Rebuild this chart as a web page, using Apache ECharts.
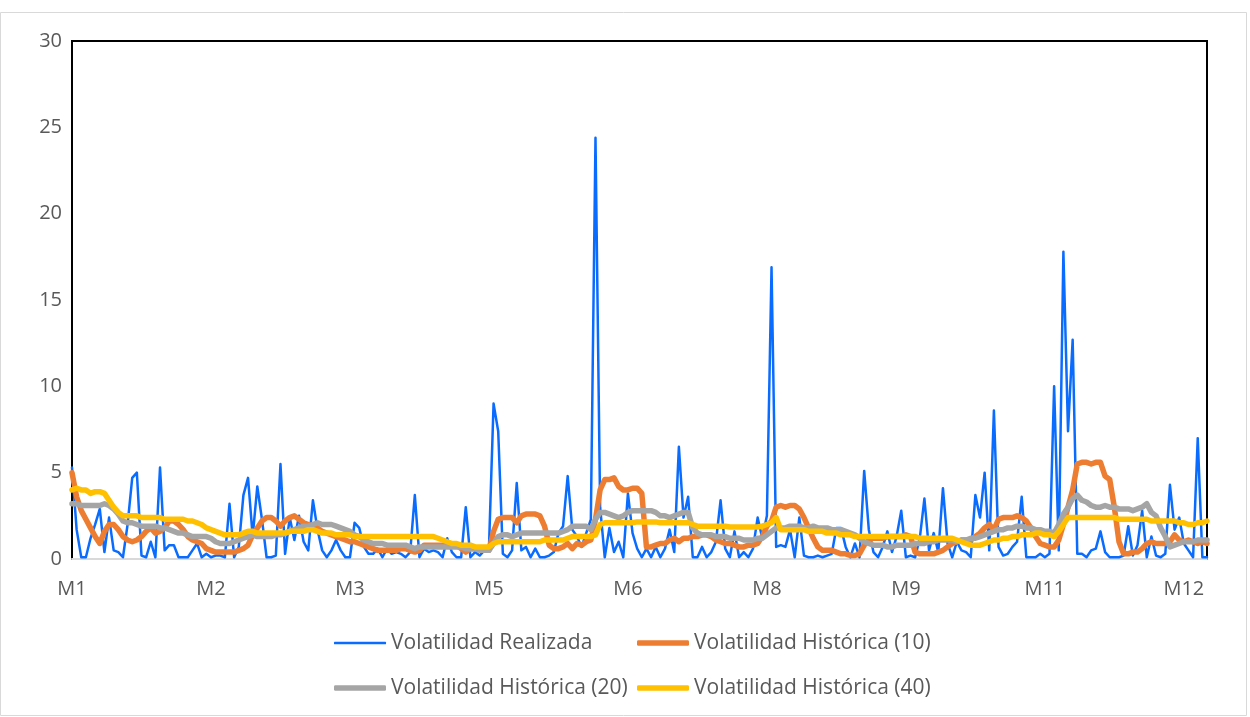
<!DOCTYPE html>
<html>
<head>
<meta charset="utf-8">
<script src="https://cdn.jsdelivr.net/npm/echarts@6/dist/echarts.min.js"></script>
<style>
  html, body { margin: 0; padding: 0; background: #ffffff; }
  #chart { width: 1250px; height: 717px; }
</style>
</head>
<body>
<div id="chart"></div>
<script>
// Month names and the trading-day index where each month begins
const monthNames = ['M1', 'M2', 'M3', 'M4', 'M5', 'M6', 'M7', 'M8', 'M9', 'M10', 'M11', 'M12'];
const monthStarts = [0, 20, 41, 61, 82, 102, 123, 143, 164, 184, 205, 225];
const dayCount = 246;

// Daily realized volatility
const realizada = [
  5.3,1.7,0.1,0.1,1.2,2.0,2.9,0.4,2.4,0.5,0.4,0.1,2.0,4.7,5.0,0.2,0.1,1.0,0.1,5.3,0.5,0.8,0.8,0.1,0.1,0.1,0.5,0.9,0.1,0.3,
  0.1,0.2,0.2,0.1,3.2,0.1,0.7,3.7,4.7,1.3,4.2,2.3,0.1,0.1,0.2,5.5,0.3,2.4,1.1,2.5,1.0,0.5,3.4,1.7,0.5,0.1,0.5,1.1,0.5,0.1,
  0.1,2.1,1.8,0.7,0.3,0.3,0.6,0.1,0.6,0.3,0.4,0.3,0.1,0.4,3.7,0.1,0.6,0.4,0.5,0.4,0.1,1.2,0.4,0.1,0.1,3.0,0.1,0.4,0.2,0.5,
  0.6,9.0,7.4,0.3,0.1,0.5,4.4,0.5,0.7,0.1,0.6,0.1,0.1,0.2,0.4,1.5,1.9,4.8,1.7,1.3,0.7,1.5,2.3,24.4,3.0,0.1,1.8,0.4,1.0,0.1,
  3.8,1.5,0.6,0.1,0.6,0.1,0.7,0.1,0.6,1.7,0.4,6.5,2.4,3.6,0.1,0.1,0.7,0.1,0.4,1.0,3.4,0.6,0.1,1.6,0.1,0.4,0.1,0.6,2.4,1.2,
  2.5,16.9,0.7,0.8,0.7,1.7,0.1,2.4,0.2,0.1,0.1,0.2,0.1,0.2,0.3,1.8,1.8,0.7,0.1,0.9,0.1,5.1,1.7,0.4,0.1,0.7,1.6,0.4,1.3,2.8,
  0.1,0.2,0.1,1.2,3.5,0.5,1.5,0.4,4.1,0.9,0.1,1.0,0.5,0.4,0.1,3.7,2.4,5.0,0.5,8.6,0.7,0.2,0.3,0.7,1.0,3.6,0.1,0.1,0.1,0.3,
  0.1,0.3,10.0,0.5,17.8,7.4,12.7,0.3,0.3,0.1,0.5,0.6,1.6,0.4,0.1,0.1,0.1,0.2,1.9,0.2,0.8,2.8,0.1,1.3,0.2,0.1,0.3,4.3,1.7,2.4,
  0.9,0.5,0.1,7.0,0.1,0.1
];

// Historical volatility, 10-day window
const historica10 = [
  5.0,3.6,2.8,2.3,1.8,1.3,0.9,1.6,2.0,2.0,1.7,1.3,1.1,1.0,1.1,1.3,1.6,1.8,1.5,1.6,1.8,2.2,2.2,2.0,1.7,1.3,1.1,1.0,0.9,0.6,
  0.5,0.4,0.4,0.4,0.4,0.4,0.5,0.6,0.8,1.4,1.8,2.2,2.4,2.4,2.2,1.9,2.2,2.4,2.5,2.3,2.1,2.0,1.9,1.8,1.6,1.5,1.4,1.3,1.2,1.1,
  1.0,1.0,0.9,0.8,0.7,0.6,0.5,0.5,0.5,0.5,0.5,0.6,0.6,0.5,0.4,0.5,0.8,0.8,0.8,0.8,0.8,0.8,0.8,0.8,0.6,0.4,0.6,0.6,0.6,0.5,
  0.5,1.6,2.3,2.4,2.4,2.4,2.1,2.5,2.6,2.6,2.6,2.5,1.9,0.8,0.6,0.6,0.7,0.9,0.6,0.9,0.8,1.0,1.1,2.3,4.0,4.6,4.6,4.7,4.2,4.0,
  4.0,4.1,4.1,3.8,0.7,0.7,0.8,0.9,0.9,1.1,1.2,1.0,1.2,1.2,1.3,1.3,1.4,1.4,1.3,1.1,1.0,0.9,0.9,0.8,0.7,0.7,0.8,0.8,0.9,1.3,
  1.9,2.2,3.0,3.1,3.0,3.1,3.1,2.9,2.4,1.8,1.2,0.7,0.5,0.5,0.5,0.4,0.3,0.3,0.2,0.2,0.3,0.8,1.1,1.2,1.2,1.2,1.3,1.3,1.3,1.3,
  1.4,1.3,0.4,0.3,0.3,0.3,0.3,0.4,0.5,0.7,0.9,1.0,1.1,1.1,1.1,1.3,1.5,1.8,2.0,1.7,2.3,2.4,2.4,2.4,2.5,2.4,2.2,1.8,1.3,0.9,
  0.8,0.7,0.7,1.1,2.0,3.0,4.0,5.5,5.6,5.6,5.5,5.6,5.6,4.8,4.6,3.0,1.0,0.3,0.3,0.4,0.4,0.6,0.9,1.0,0.9,0.9,0.9,1.0,1.4,1.1,
  1.0,1.1,1.0,0.9,1.0,0.9
];

// Historical volatility, 20-day window
const historica20 = [
  3.2,3.2,3.1,3.1,3.1,3.1,3.1,3.2,3.1,2.9,2.6,2.2,2.1,2.1,2.0,1.9,1.9,1.9,1.9,1.8,1.8,1.7,1.6,1.5,1.5,1.4,1.3,1.3,1.3,1.3,
  1.2,1.0,0.9,0.9,0.9,1.0,1.1,1.2,1.3,1.4,1.3,1.3,1.3,1.3,1.4,1.4,1.5,1.6,1.7,1.8,1.9,1.9,2.0,2.1,2.0,2.0,2.0,1.9,1.8,1.7,
  1.6,1.4,1.3,1.1,1.0,0.9,0.9,0.9,0.8,0.8,0.8,0.8,0.8,0.7,0.6,0.7,0.7,0.7,0.7,0.7,0.7,0.7,0.7,0.7,0.7,0.6,0.6,0.6,0.5,0.5,
  0.5,0.9,1.3,1.4,1.4,1.3,1.4,1.5,1.5,1.5,1.5,1.5,1.5,1.5,1.5,1.5,1.6,1.7,1.9,1.9,1.9,1.9,1.7,2.3,2.7,2.7,2.6,2.5,2.4,2.5,
  2.7,2.8,2.8,2.8,2.8,2.8,2.7,2.5,2.5,2.4,2.5,2.6,2.7,2.7,1.8,1.5,1.4,1.4,1.4,1.3,1.3,1.3,1.2,1.2,1.2,1.1,1.1,1.1,1.2,1.2,
  1.4,1.6,1.8,1.8,1.8,1.9,1.9,1.9,1.8,1.8,1.9,1.8,1.8,1.8,1.7,1.7,1.7,1.6,1.5,1.4,1.2,1.0,0.9,0.8,0.8,0.8,0.7,0.7,0.8,0.8,
  0.8,0.8,0.9,0.9,0.9,1.0,1.0,1.1,1.1,1.1,1.1,1.0,1.1,1.1,1.2,1.2,1.3,1.4,1.5,1.6,1.7,1.7,1.8,1.8,1.9,1.9,1.8,1.8,1.7,1.7,
  1.6,1.6,1.5,2.0,2.6,3.0,3.5,3.7,3.4,3.3,3.1,3.0,3.0,3.1,3.0,3.0,2.9,2.9,2.9,2.8,2.9,3.0,3.2,2.7,2.5,1.8,1.3,0.7,0.8,0.9,
  1.0,1.0,1.0,1.1,1.1,1.1
];

// Historical volatility, 40-day window
const historica40 = [
  4.0,4.1,4.0,4.0,3.8,3.9,3.9,3.8,3.4,3.0,2.7,2.5,2.5,2.5,2.5,2.4,2.4,2.4,2.4,2.4,2.3,2.3,2.3,2.3,2.3,2.2,2.2,2.1,2.0,1.8,
  1.7,1.6,1.5,1.4,1.4,1.4,1.4,1.5,1.6,1.6,1.5,1.5,1.5,1.5,1.5,1.5,1.5,1.6,1.6,1.6,1.6,1.7,1.7,1.6,1.5,1.5,1.5,1.4,1.4,1.4,
  1.4,1.3,1.3,1.3,1.3,1.3,1.3,1.3,1.3,1.3,1.3,1.3,1.3,1.3,1.3,1.3,1.3,1.3,1.3,1.2,1.1,1.0,0.9,0.9,0.8,0.8,0.8,0.7,0.7,0.7,
  0.7,0.9,1.0,1.0,1.0,1.0,1.0,1.0,1.0,1.0,1.0,1.0,1.1,1.1,1.1,1.1,1.1,1.2,1.3,1.3,1.3,1.3,1.3,1.4,2.0,2.1,2.1,2.1,2.1,2.1,
  2.1,2.1,2.15,2.15,2.15,2.15,2.15,2.1,2.1,2.1,2.1,2.1,2.1,2.1,2.0,1.9,1.9,1.9,1.9,1.9,1.9,1.9,1.85,1.85,1.85,1.85,1.85,1.85,1.85,1.9,
  2.0,2.1,2.4,1.7,1.7,1.7,1.7,1.7,1.7,1.6,1.6,1.6,1.6,1.5,1.5,1.5,1.4,1.4,1.4,1.3,1.3,1.3,1.3,1.3,1.3,1.3,1.3,1.3,1.3,1.3,
  1.3,1.3,1.3,1.2,1.2,1.2,1.2,1.2,1.2,1.2,1.2,1.1,1.0,0.9,0.8,0.8,0.8,0.9,1.0,1.1,1.1,1.2,1.2,1.3,1.3,1.4,1.4,1.4,1.5,1.5,
  1.4,1.4,1.3,1.6,2.0,2.4,2.4,2.4,2.4,2.4,2.4,2.4,2.4,2.4,2.4,2.4,2.3,2.3,2.3,2.3,2.3,2.3,2.3,2.2,2.2,2.2,2.2,2.2,2.2,2.1,
  2.1,2.0,2.0,2.1,2.1,2.2
];

const seriesNames = [
  'Volatilidad Realizada',
  'Volatilidad Histórica (10)',
  'Volatilidad Histórica (20)',
  'Volatilidad Histórica (40)'
];
const seriesColors = ['#0a6cff', '#ed7d31', '#a5a5a5', '#ffc000'];
const seriesWidths = [2.5, 5.5, 5.5, 5.5];
const seriesValues = [realizada, historica10, historica20, historica40];

// One category per trading day, labelled with its month
const categories = [];
for (let i = 0; i < dayCount; i++) {
  let m = 0;
  while (m + 1 < monthStarts.length && monthStarts[m + 1] <= i) m++;
  categories.push(monthNames[m]);
}

const FONT = '"Open Sans", "Noto Sans", sans-serif';
const TEXT_COLOR = '#595959';
const FONT_SIZE = 20;
const LEGEND_FONT_SIZE = 21;

// Legend laid out as a 2x2 block, one legend component per entry
const legendSlots = [
  { left: 334, top: 631 },
  { left: 637, top: 631 },
  { left: 334, top: 676 },
  { left: 637, top: 676 }
];

const chart = echarts.init(document.getElementById('chart'), null, { renderer: 'canvas' });

chart.setOption({
  animation: false,
  backgroundColor: '#ffffff',
  textStyle: { fontFamily: FONT },
  graphic: [{
    type: 'rect',
    shape: { x: 0.5, y: 12.5, width: 1246, height: 703 },
    style: { fill: 'none', stroke: '#d9d9d9', lineWidth: 1 },
    silent: true,
    z: -10
  }],
  grid: {
    left: 72, right: 43, top: 41, bottom: 158,
    show: true,
    borderColor: '#000000',
    borderWidth: 2,
    backgroundColor: 'transparent'
  },
  legend: legendSlots.map((slot, i) => ({
    data: [seriesNames[i]],
    left: slot.left,
    top: slot.top,
    icon: 'roundRect',
    itemWidth: 52,
    itemHeight: seriesWidths[i],
    padding: 0,
    selectedMode: false,
    textStyle: { color: TEXT_COLOR, fontSize: LEGEND_FONT_SIZE, fontFamily: FONT, lineHeight: 24 }
  })),
  xAxis: {
    type: 'category',
    data: categories,
    boundaryGap: false,
    axisLine: { show: true, lineStyle: { color: '#d9d9d9', width: 2 } },
    axisTick: { show: false },
    axisLabel: {
      interval: 29,
      color: TEXT_COLOR,
      fontSize: FONT_SIZE,
      fontFamily: FONT,
      margin: 20
    },
    splitLine: { show: false }
  },
  yAxis: {
    type: 'value',
    min: 0,
    max: 30,
    interval: 5,
    axisLine: { show: false },
    axisTick: { show: false },
    splitLine: { show: false },
    axisLabel: { color: TEXT_COLOR, fontSize: FONT_SIZE, fontFamily: FONT, margin: 10 }
  },
  series: seriesValues.map((vals, i) => ({
    name: seriesNames[i],
    type: 'line',
    data: vals,
    symbol: 'none',
    silent: true,
    color: seriesColors[i],
    lineStyle: { color: seriesColors[i], width: seriesWidths[i], cap: 'round', join: 'round' },
    z: 2 + i
  }))
});
</script>
</body>
</html>
